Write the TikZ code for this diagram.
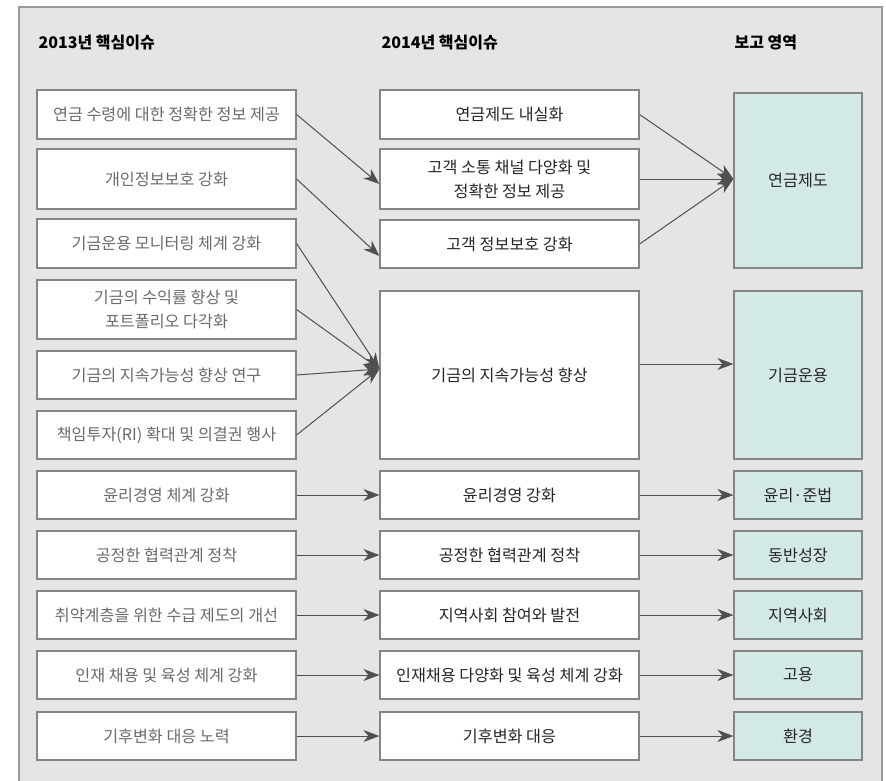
\documentclass[tikz,border=0pt]{standalone}
\usepackage{xcolor}
\usepackage{fontspec}
\setmainfont{Noto Sans CJK KR}
\usepackage{tikz}
\usetikzlibrary{arrows.meta}
\definecolor{frame_gray}{HTML}{9A9A9A}
\definecolor{bg_gray}{HTML}{E5E5E5}
\definecolor{box_gray}{HTML}{858585}
\definecolor{line_gray}{HTML}{505050}
\definecolor{txt_gray}{HTML}{6B6B6B}
\definecolor{txt_dark}{HTML}{262626}
\definecolor{area_teal}{HTML}{D2E9E5}

\begin{document}
\begin{tikzpicture}[x=1pt, y=-1pt,
    font=\fontsize{16.2}{24}\selectfont,
    issue/.style={draw=box_gray, fill=white, line width=1.2pt, minimum width=259pt,
      inner sep=0pt, align=center, text=txt_gray},
    core/.style={issue, text=txt_dark},
    area/.style={draw=box_gray, fill=area_teal, line width=1.2pt, minimum width=128pt,
      inner sep=0pt, align=center, text=txt_dark},
    head/.style={anchor=west, font=\fontsize{16}{24}\selectfont\bfseries},
    link/.style={line_gray, line width=1pt, -{Stealth[length=16pt, width=12pt, inset=5pt]}}]

      % Draw page and frame
      \useasboundingbox (0, 0) rectangle (886, 781);
      \draw[frame_gray, fill=bg_gray, line width=1.5pt] (19, 7) rectangle (882, 800);

      % Column headings
      \node[head] (h13) at (35, 43) {2013년 핵심이슈};
      \node[head] (h14) at (378, 43) {2014년 핵심이슈};
      \node[head] (hrep) at (731, 43) {보고 영역};

      % 2013 issues
      \node[issue, minimum height=49pt] (l1) at (166.5, 114.5) {연금 수령에 대한 정확한 정보 제공};
      \node[issue, minimum height=60pt] (l2) at (166.5, 179) {개인정보보호 강화};
      \node[issue, minimum height=49pt] (l3) at (166.5, 243.5) {기금운용 모니터링 체계 강화};
      \node[issue, minimum height=59pt] (l4) at (166.5, 309.5) {기금의 수익률 향상 및\\포트폴리오 다각화};
      \node[issue, minimum height=48pt] (l5) at (166.5, 375) {기금의 지속가능성 향상 연구};
      \node[issue, minimum height=48pt] (l6) at (166.5, 435) {책임투자(RI) 확대 및 의결권 행사};
      \node[issue, minimum height=48pt] (l7) at (166.5, 495) {윤리경영 체계 강화};
      \node[issue, minimum height=48pt] (l8) at (166.5, 555) {공정한 협력관계 정착};
      \node[issue, minimum height=48pt] (l9) at (166.5, 615) {취약계층을 위한 수급 제도의 개선};
      \node[issue, minimum height=48pt] (l10) at (166.5, 675) {인재 채용 및 육성 체계 강화};
      \node[issue, minimum height=48pt] (l11) at (166.5, 736) {기후변화 대응 노력};

      % 2014 issues
      \node[core, minimum height=49pt] (m1) at (509.5, 114.5) {연금제도 내실화};
      \node[core, minimum height=60pt] (m2) at (509.5, 179) {고객 소통 채널 다양화 및\\정확한 정보 제공};
      \node[core, minimum height=48pt] (m3) at (509.5, 244) {고객 정보보호 강화};
      \node[core, minimum height=168pt] (m4) at (509.5, 375) {기금의 지속가능성 향상};
      \node[core, minimum height=48pt] (m5) at (509.5, 495) {윤리경영 강화};
      \node[core, minimum height=48pt] (m6) at (509.5, 555) {공정한 협력관계 정착};
      \node[core, minimum height=48pt] (m7) at (509.5, 615) {지역사회 참여와 발전};
      \node[core, minimum height=48pt] (m8) at (509.5, 675) {인재채용 다양화 및 육성 체계 강화};
      \node[core, minimum height=48pt] (m9) at (509.5, 736) {기후변화 대응};

      % Report areas
      \node[area, minimum height=175pt] (r1) at (798, 180.5) {연금제도};
      \node[area, minimum height=168pt] (r2) at (798, 375) {기금운용};
      \node[area, minimum height=48pt] (r3) at (798, 495) {윤리·준법};
      \node[area, minimum height=48pt] (r4) at (798, 555) {동반성장};
      \node[area, minimum height=48pt] (r5) at (798, 615) {지역사회};
      \node[area, minimum height=48pt] (r6) at (798, 675) {고용};
      \node[area, minimum height=48pt] (r7) at (798, 736) {환경};

      % Arrow ends that sit off the box centres
      \coordinate (m2in) at ([yshift=-5pt]m2.west);
      \coordinate (m3in) at ([yshift=-12pt]m3.west);
      \coordinate (m4in) at ([yshift=6pt]m4.west);
      \coordinate (r1in) at ([yshift=1.5pt]r1.west);
      \coordinate (r2in) at ([yshift=11pt]r2.west);

      % 2013 -> 2014
      \draw[link] (l1.east) -- (m2in);
      \draw[link] (l2.east) -- (m3in);
      \draw[link] (l3.east) -- (m4in);
      \draw[link] (l4.east) -- (m4in);
      \draw[link] (l5.east) -- (m4in);
      \draw[link] (l6.east) -- (m4in);
      \draw[link] (l7) -- (m5);
      \draw[link] (l8) -- (m6);
      \draw[link] (l9) -- (m7);
      \draw[link] (l10) -- (m8);
      \draw[link] (l11) -- (m9);

      % 2014 -> report areas
      \draw[link] (m1.east) -- (r1in);
      \draw[link] (m2.east) -- (r1in);
      \draw[link] (m3.east) -- (r1in);
      \draw[link] (m4.east |- r2in) -- (r2in);
      \draw[link] (m5) -- (r3);
      \draw[link] (m6) -- (r4);
      \draw[link] (m7) -- (r5);
      \draw[link] (m8) -- (r6);
      \draw[link] (m9) -- (r7);

\end{tikzpicture}
\end{document}
